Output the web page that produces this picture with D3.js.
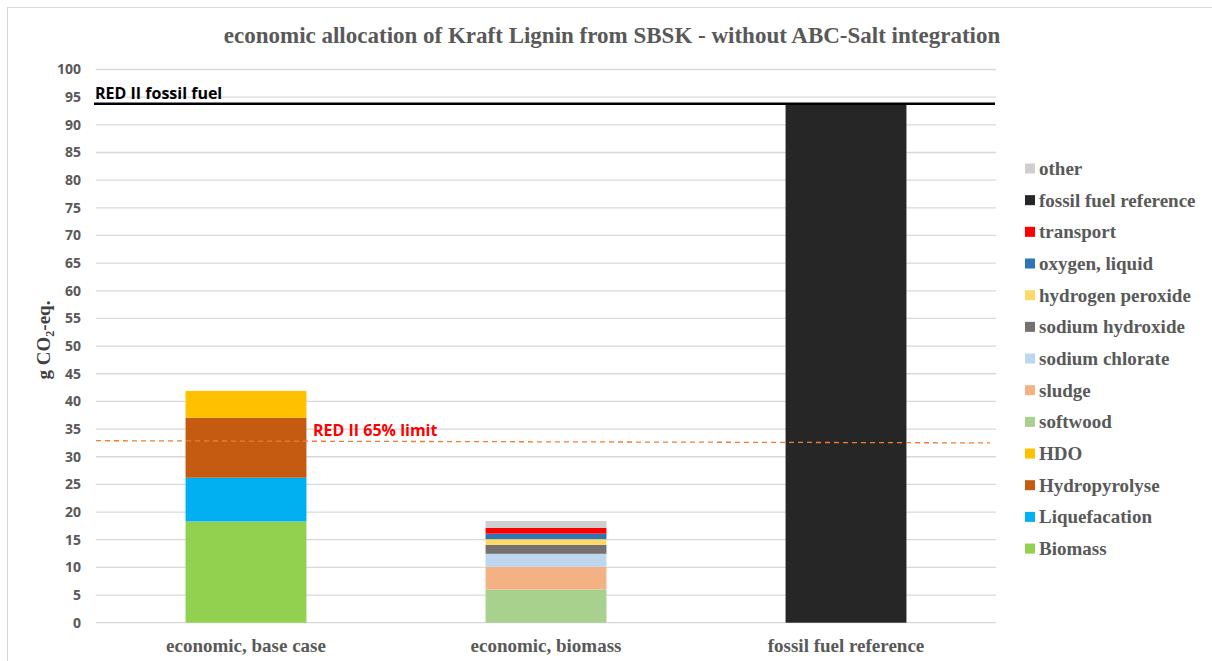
<!DOCTYPE html>
<html>
<head>
<meta charset="utf-8">
<script src="https://cdn.jsdelivr.net/npm/d3@7"></script>
<style>
  html, body { margin: 0; padding: 0; background: #fff; }
  svg { display: block; }
</style>
</head>
<body>
<svg id="chart" width="1212" height="661"></svg>
<script>
// Scenarios on the x axis
const categories = ["economic, base case", "economic, biomass", "fossil fuel reference"];

// Contribution groups, bottom to top of the stack
const seriesNames = [
  "Biomass", "Liquefacation", "Hydropyrolyse", "HDO",
  "softwood", "sludge", "sodium chlorate", "sodium hydroxide",
  "hydrogen peroxide", "oxygen, liquid", "transport",
  "fossil fuel reference", "other"
];

// g CO2-eq. per scenario, one array per series (same order as categories)
const Biomass            = [18.3, 0, 0];
const Liquefacation      = [7.9, 0, 0];
const Hydropyrolyse      = [10.85, 0, 0];
const HDO                = [4.85, 0, 0];
const softwood           = [0, 6.0, 0];
const sludge             = [0, 4.1, 0];
const sodiumChlorate     = [0, 2.35, 0];
const sodiumHydroxide    = [0, 1.63, 0];
const hydrogenPeroxide   = [0, 1.02, 0];
const oxygenLiquid       = [0, 1.0, 0];
const transport          = [0, 1.03, 0];
const fossilFuelRef      = [0, 0, 93.6];
const other              = [0, 1.25, 0];

const seriesValues = [
  Biomass, Liquefacation, Hydropyrolyse, HDO, softwood, sludge,
  sodiumChlorate, sodiumHydroxide, hydrogenPeroxide, oxygenLiquid,
  transport, fossilFuelRef, other
];

const seriesColors = [
  "#92D050", "#00B0F0", "#C55A11", "#FFC000",
  "#A9D18E", "#F4B183", "#BDD7EE", "#767171",
  "#FFD966", "#2E75B6", "#FF0000", "#262626", "#D0CECE"
];

const yTicks = d3.range(0, 101, 5);

// Reference levels
const fossilComparator = 93.8;              // RED II fossil fuel comparator
const limit65 = [32.9, 32.5];                // RED II 65% reduction line (start, end)

const svg = d3.select("#chart");
const W = 1212, H = 661;
const innerLeft = 96, innerRight = 996, innerTop = 69.5, innerBottom = 622.7;
const serif = "'Liberation Serif', 'Times New Roman', serif";
const sans = "'Open Sans', Lato, sans-serif";

// Outer chart frame
svg.append("rect")
  .attr("x", 7.5).attr("y", 7.5)
  .attr("width", W + 20).attr("height", H + 20)
  .attr("fill", "none").attr("stroke", "#D9D9D9").attr("stroke-width", 1);

const x = d3.scaleBand().domain(categories).range([innerLeft, innerRight]).paddingInner(0.597).paddingOuter(0.2985);
const y = d3.scaleLinear().domain([0, 100]).range([innerBottom, innerTop]);

// Gridlines
svg.append("g").selectAll("line").data(yTicks).join("line")
  .attr("x1", innerLeft).attr("x2", innerRight)
  .attr("y1", d => y(d)).attr("y2", d => y(d))
  .attr("stroke", "#D9D9D9").attr("stroke-width", 1.3);

// Y tick labels
const yAxis = d3.axisLeft(y).tickValues(yTicks).tickSize(0).tickPadding(0);
const yg = svg.append("g").attr("transform", `translate(${innerLeft - 15},0)`).call(yAxis);
yg.select(".domain").remove();
yg.selectAll("text")
  .attr("fill", "#595959")
  .style("font-family", sans)
  .style("font-weight", "bold")
  .style("font-size", "14px");

// Stacked bars
const table = categories.map((c, i) => {
  const row = { category: c };
  seriesNames.forEach((s, k) => row[s] = seriesValues[k][i]);
  return row;
});
const stack = d3.stack().keys(seriesNames)(table);

svg.append("g").selectAll("g").data(stack).join("g")
  .attr("fill", (d, i) => seriesColors[i])
  .selectAll("rect").data(d => d.filter(p => p[1] - p[0] > 0)).join("rect")
  .attr("x", d => x(d.data.category))
  .attr("width", x.bandwidth())
  .attr("y", d => y(d[1]))
  .attr("height", d => y(d[0]) - y(d[1]));

// Category labels
svg.append("g").selectAll("text").data(categories).join("text")
  .attr("x", d => x(d) + x.bandwidth() / 2)
  .attr("y", 652)
  .attr("text-anchor", "middle")
  .attr("fill", "#595959")
  .style("font-family", serif)
  .style("font-weight", "bold")
  .style("font-size", "19px")
  .text(d => d);

// RED II fossil fuel comparator line
svg.append("line")
  .attr("x1", innerLeft - 2).attr("x2", innerRight - 1)
  .attr("y1", y(fossilComparator)).attr("y2", y(fossilComparator))
  .attr("stroke", "#000").attr("stroke-width", 2.6);
svg.append("text")
  .attr("x", 95).attr("y", y(fossilComparator) - 5)
  .attr("fill", "#000")
  .style("font-family", sans)
  .style("font-weight", "bold")
  .style("font-size", "16px")
  .text("RED II fossil fuel");

// RED II 65% limit dashed line
svg.append("line")
  .attr("x1", innerLeft).attr("x2", 990)
  .attr("y1", y(limit65[0])).attr("y2", y(limit65[1]))
  .attr("stroke", "#ED7D31").attr("stroke-width", 1.3)
  .attr("stroke-dasharray", "5,4");
svg.append("text")
  .attr("x", 313).attr("y", 436)
  .attr("fill", "#FF0000")
  .style("font-family", sans)
  .style("font-weight", "bold")
  .style("font-size", "16px")
  .text("RED II 65% limit");

// Title
svg.append("text")
  .attr("x", 612).attr("y", 43)
  .attr("text-anchor", "middle")
  .attr("fill", "#595959")
  .style("font-family", serif)
  .style("font-weight", "bold")
  .style("font-size", "23px")
  .text("economic allocation of Kraft Lignin from SBSK - without ABC-Salt integration");

// Y axis title
const yt = svg.append("text")
  .attr("transform", "translate(50,340) rotate(-90)")
  .attr("text-anchor", "middle")
  .attr("fill", "#404040")
  .style("font-family", serif)
  .style("font-weight", "bold")
  .style("font-size", "19px");
yt.append("tspan").text("g CO");
yt.append("tspan").attr("dy", 4).style("font-size", "12px").text("2");
yt.append("tspan").attr("dy", -4).text("-eq.");

// Legend, top entry is the last series
const legendOrder = seriesNames.map((s, i) => i).reverse();
const lg = svg.append("g").selectAll("g").data(legendOrder).join("g")
  .attr("transform", (d, j) => `translate(1025,${169 + j * 31.67})`);
lg.append("rect")
  .attr("x", 0).attr("y", -5.5).attr("width", 10).attr("height", 10)
  .attr("fill", d => seriesColors[d]);
lg.append("text")
  .attr("x", 14).attr("y", 6)
  .attr("fill", "#595959")
  .style("font-family", serif)
  .style("font-weight", "bold")
  .style("font-size", "19px")
  .text(d => seriesNames[d]);
</script>
</body>
</html>
